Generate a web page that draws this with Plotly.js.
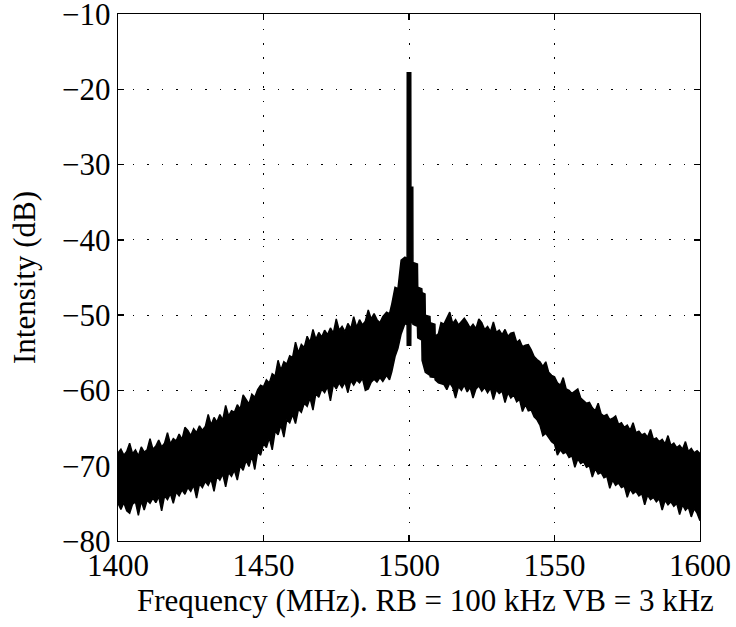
<!DOCTYPE html>
<html>
<head>
<meta charset="utf-8">
<script src="https://cdn.plot.ly/plotly-3.0.1.min.js"></script>
<style>
  html, body { margin: 0; padding: 0; background: #ffffff; }
  #chart { width: 736px; height: 627px; }
</style>
</head>
<body>
<div id="chart"></div>
<script>
// Frequency samples (MHz)
const freqMHz = [
  1400,1401,1402,1403,1404,1405,1406,1407,1408,1409,
  1410,1411,1412,1413,1414,1415,1416,1417,1418,1419,
  1420,1421,1422,1423,1424,1425,1426,1427,1428,1429,
  1430,1431,1432,1433,1434,1435,1436,1437,1438,1439,
  1440,1441,1442,1443,1444,1445,1446,1447,1448,1449,
  1450,1451,1452,1453,1454,1455,1456,1457,1458,1459,
  1460,1461,1462,1463,1464,1465,1466,1467,1468,1469,
  1470,1471,1472,1473,1474,1475,1476,1477,1478,1479,
  1480,1481,1482,1483,1484,1485,1486,1487,1488,1489,
  1490.0,1491.0,1492.3,1493.3,1494.1,1495.2,1496.2,1497.3,1498.6,1499.35,
  1499.4,1500.6,1500.65,1501.3,1501.35,1502.9,1503.0,1504.4,1504.5,1505.5,
  1505.6,1507.2,1507.3,1508.9,1509.0,1510.1,1511.0,
  1512,1513,1514,1515,1516,1517,1518,1519,1520,1521,
  1522,1523,1524,1525,1526,1527,1528,1529,1530,1531,
  1532,1533,1534,1535,1536,1537,1538,1539,1540,1541,
  1542,1543,1544,1545,1546,1547,1548,1549,1550,1551,
  1552,1553,1554,1555,1556,1557,1558,1559,1560,1561,
  1562,1563,1564,1565,1566,1567,1568,1569,1570,1571,
  1572,1573,1574,1575,1576,1577,1578,1579,1580,1581,
  1582,1583,1584,1585,1586,1587,1588,1589,1590,1591,
  1592,1593,1594,1595,1596,1597,1598,1599,1600
];

// Upper edge of the noisy trace (dB)
const upperDb = [
  -68.3,-67.8,-68.6,-68.1,-67.0,-68.4,-67.9,-68.7,-67.5,-68.2,
  -67.9,-66.4,-67.8,-67.4,-66.6,-67.5,-67.0,-65.6,-67.1,-66.4,
  -66.7,-65.8,-66.5,-64.9,-65.3,-66.0,-65.1,-65.6,-64.7,-65.3,
  -64.8,-63.2,-64.6,-63.6,-64.2,-63.2,-63.9,-62.0,-63.4,-62.7,
  -62.9,-61.9,-62.5,-60.6,-61.2,-61.8,-60.5,-60.9,-59.9,-59.3,
  -59.5,-58.6,-59.0,-57.8,-58.1,-56.0,-57.3,-56.2,-56.5,-55.4,
  -55.6,-53.6,-55.0,-53.9,-54.3,-52.8,-53.6,-51.9,-53.2,-52.3,
  -52.9,-52.0,-52.6,-51.7,-52.4,-50.5,-52.0,-51.5,-52.2,-51.1,
  -51.8,-50.2,-51.6,-50.6,-51.3,-50.8,-49.3,-50.5,-49.8,-50.6,
  -51.0,-50.2,-49.6,-49.8,-48.5,-46.3,-46.5,-42.7,-42.3,-42.5,
  -17.8,-17.8,-33.0,-33.0,-43.0,-43.2,-46.3,-46.5,-47.0,-47.2,
  -50.0,-50.2,-51.0,-51.2,-52.8,-52.5,-51.0,
  -51.2,-50.4,-49.6,-51.1,-50.6,-51.3,-50.9,-50.4,-51.0,-51.7,
  -51.2,-51.8,-50.5,-51.0,-51.9,-51.5,-52.2,-50.9,-52.3,-52.0,
  -52.6,-51.9,-52.8,-52.4,-52.3,-53.6,-53.3,-54.2,-54.0,-53.9,
  -54.6,-55.5,-55.9,-56.2,-56.8,-56.2,-57.6,-58.0,-58.2,-59.0,
  -59.3,-58.3,-59.8,-60.0,-60.4,-60.1,-59.8,-61.0,-61.3,-61.7,
  -61.6,-62.3,-62.7,-61.7,-63.1,-63.4,-63.2,-63.9,-63.7,-63.4,
  -64.5,-64.3,-64.9,-64.6,-65.3,-64.3,-65.6,-65.4,-65.9,-65.7,
  -66.2,-65.2,-66.5,-66.3,-66.8,-66.5,-67.1,-66.0,-67.3,-67.0,
  -67.6,-67.3,-67.8,-66.8,-68.1,-67.7,-68.3,-68.0,-68.4
];

// Lower edge of the noisy trace (dB)
const lowerDb = [
  -75.0,-75.8,-74.9,-76.0,-76.3,-75.1,-74.8,-76.6,-74.7,-75.9,
  -74.6,-75.0,-74.3,-74.9,-74.1,-76.0,-74.0,-74.5,-73.7,-75.0,
  -73.5,-74.0,-73.2,-73.8,-72.9,-73.4,-72.6,-74.3,-72.4,-72.9,
  -72.1,-72.6,-71.8,-73.4,-71.4,-71.9,-71.1,-72.8,-70.9,-71.4,
  -70.6,-71.9,-70.0,-70.6,-69.3,-70.1,-68.7,-70.5,-68.1,-68.6,
  -67.1,-67.6,-66.3,-67.9,-65.4,-65.9,-64.6,-66.2,-63.9,-64.3,
  -63.2,-64.4,-62.5,-62.9,-61.7,-62.1,-61.0,-62.6,-60.4,-60.9,
  -59.8,-60.3,-59.5,-61.4,-59.2,-59.8,-59.0,-59.6,-58.9,-60.3,
  -58.7,-59.3,-58.6,-59.0,-58.4,-60.0,-59.8,-58.9,-58.5,-58.9,
  -58.3,-58.8,-58.0,-58.6,-57.5,-55.5,-54.4,-52.5,-51.1,-51.3,
  -54.0,-54.0,-51.0,-51.0,-51.2,-51.5,-53.0,-53.3,-56.0,-57.4,
  -57.6,-58.0,-58.2,-58.3,-58.6,-59.0,-59.1,
  -59.2,-59.9,-59.0,-59.6,-61.0,-59.5,-60.0,-59.3,-60.2,-59.6,
  -61.0,-59.8,-59.4,-60.1,-59.6,-60.3,-59.7,-61.2,-59.9,-60.4,
  -60.1,-61.6,-60.3,-61.0,-60.6,-61.5,-61.2,-62.8,-61.9,-62.7,
  -62.6,-63.5,-63.9,-64.6,-66.0,-65.7,-66.2,-66.8,-67.1,-68.6,
  -67.9,-68.4,-68.2,-68.9,-68.7,-70.2,-69.1,-69.7,-69.5,-70.2,
  -70.0,-71.5,-70.4,-71.1,-70.9,-71.6,-71.4,-73.0,-71.9,-72.6,
  -72.3,-72.9,-72.7,-74.2,-73.1,-73.7,-73.4,-74.0,-73.7,-75.2,
  -73.9,-74.5,-74.2,-74.8,-74.4,-75.9,-74.6,-75.2,-74.8,-75.4,
  -75.0,-76.5,-75.2,-75.9,-75.5,-76.8,-75.7,-76.3,-77.3
];

const xTicks = [1400, 1450, 1500, 1550, 1600];
const yTicks = [-80, -70, -60, -50, -40, -30, -20, -10];
const xTitle = 'Frequency (MHz). RB = 100 kHz VB = 3 kHz';
const yTitle = 'Intensity (dB)';

const FONT = 'Liberation Serif, Times New Roman, serif';
const FS = 31;

const traces = [
  {
    x: freqMHz, y: lowerDb, type: 'scatter', mode: 'lines',
    line: {color: '#000000', width: 1.5}, hoverinfo: 'skip', showlegend: false
  },
  {
    x: freqMHz, y: upperDb, type: 'scatter', mode: 'lines',
    fill: 'tonexty', fillcolor: '#000000',
    line: {color: '#000000', width: 1.5}, hoverinfo: 'skip', showlegend: false
  }
];

const axisCommon = {
  showline: true, linecolor: '#000000', linewidth: 1.3, mirror: 'ticks',
  ticks: 'inside', ticklen: 6, tickwidth: 1.3, tickcolor: '#000000',
  showgrid: true, gridcolor: '#000000', gridwidth: 1, griddash: '1.5px,13px',
  zeroline: false, tickfont: {family: FONT, size: FS, color: '#000000'},
  ticklabeloverflow: 'allow', automargin: false
};

const layout = {
  width: 736, height: 627,
  margin: {l: 118, r: 36, t: 14, b: 86},
  paper_bgcolor: '#ffffff', plot_bgcolor: '#ffffff',
  font: {family: FONT, color: '#000000'},
  xaxis: Object.assign({}, axisCommon, {
    range: [1400, 1600], tickmode: 'array', tickvals: xTicks,
    ticktext: xTicks.map(String), ticklabelstandoff: -4
  }),
  yaxis: Object.assign({}, axisCommon, {
    range: [-80, -10], tickmode: 'array', tickvals: yTicks,
    ticktext: yTicks.map(v => '\u2212' + Math.abs(v)),
    title: {text: yTitle, font: {family: FONT, size: FS, color: '#000000'}, standoff: 17}
  }),
  annotations: [{
    text: xTitle, xref: 'paper', yref: 'paper', x: 0.529, y: -0.112,
    xanchor: 'center', yanchor: 'middle', showarrow: false,
    font: {family: FONT, size: FS, color: '#000000'}
  }]
};

Plotly.newPlot('chart', traces, layout, {staticPlot: true, displayModeBar: false});
</script>
</body>
</html>
